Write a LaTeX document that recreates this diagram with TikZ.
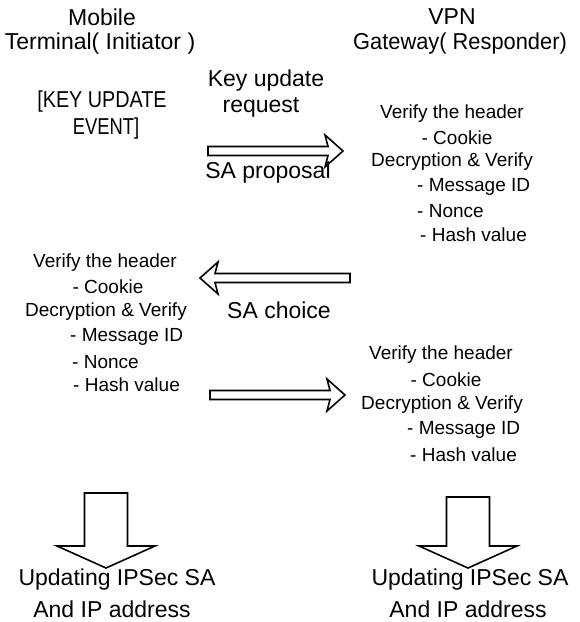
\documentclass[tikz,border=0pt]{standalone}
\usepackage{fontspec}
\setmainfont{Liberation Sans}
\begin{document}
\begin{tikzpicture}[x=1pt,y=-1pt,
  big/.style={inner sep=0pt,font=\fontsize{23}{27}\selectfont},
  small/.style={inner sep=0pt,font=\fontsize{19}{23}\selectfont},
  outline/.style={draw=black,line width=1.6pt,line join=miter,fill=white},
  pics/sidearrow/.style={code={
    \draw[outline] (-#1,-4.5) -- (-15,-4.5) -- (-18,-16) -- (0,0)
      -- (-18,16) -- (-15,4.5) -- (-#1,4.5) -- cycle;}},
  pics/downarrow/.style={code={
    \draw[outline] (-21.5,-#1) -- (-21.5,-22) -- (-49,-22) -- (0,0)
      -- (49,-22) -- (21.5,-22) -- (21.5,-#1) -- cycle;}}
]
\useasboundingbox (0,0) rectangle (580,622);

% column headings
\node[big] (mob)  at (102,17) {Mobile};
\node[big] (term) at (100,44) {Terminal( Initiator )};
\node[big] (vpn)  at (452,17) {VPN};
\node[big] (gw)   at (460,44) {\scalebox{0.95}[1]{Gateway( Responder)}};

% trigger
\node[big] (ev1) at (102,102) {\scalebox{0.86}[1]{[KEY UPDATE}};
\node[big] (ev2) at (106,129) {\scalebox{0.8}[1]{EVENT]}};

% message 1: key update request
\node[big] (kur1) at (266,81)  {Key update};
\node[big] (kur2) at (261,107) {request};
\coordinate (m1tip) at (343,151);
\pic at (m1tip) {sidearrow=135};
\node[big] (prop) at (268,173) {SA proposal};

% responder checks
\node[small] (r1a) at (452,114) {Verify the header};
\node[small] (r1b) at (457,138) {- Cookie};
\node[small] (r1c) at (452,162) {Decryption \& Verify};
\node[small,anchor=west] (r1d) at (417,187) {- Message ID};
\node[small,anchor=west] (r1e) at (417,211) {- Nonce};
\node[small,anchor=west] (r1f) at (420,235) {- Hash value};

% message 2: SA choice
\coordinate (m2tip) at (200,278);
\pic[xscale=-1] at (m2tip) {sidearrow=150};
\node[big] (choice) at (279,310) {SA choice};

% initiator checks
\node[small] (l1a) at (105,263) {Verify the header};
\node[small] (l1b) at (108,287) {- Cookie};
\node[small] (l1c) at (106,312) {Decryption \& Verify};
\node[small,anchor=west] (l1d) at (70,337) {- Message ID};
\node[small,anchor=west] (l1e) at (72,362) {- Nonce};
\node[small,anchor=west] (l1f) at (73,385) {- Hash value};

% message 3
\coordinate (m3tip) at (345,395);
\pic at (m3tip) {sidearrow=135};

% responder checks
\node[small] (r2a) at (441,355) {Verify the header};
\node[small] (r2b) at (446,380) {- Cookie};
\node[small] (r2c) at (442,405) {Decryption \& Verify};
\node[small,anchor=west] (r2d) at (407,430) {- Message ID};
\node[small,anchor=west] (r2e) at (410,455) {- Hash value};

% final updates
\coordinate (ltip) at (106,568);
\pic at (ltip) {downarrow=75};
\coordinate (rtip) at (468,568);
\pic at (rtip) {downarrow=71};
\node[big] (lu1) at (117,580) {Updating IPSec SA};
\node[big] (lu2) at (112,609) {And IP address};
\node[big] (ru1) at (470,580) {Updating IPSec SA};
\node[big] (ru2) at (468,609) {And IP address};
\end{tikzpicture}
\end{document}
